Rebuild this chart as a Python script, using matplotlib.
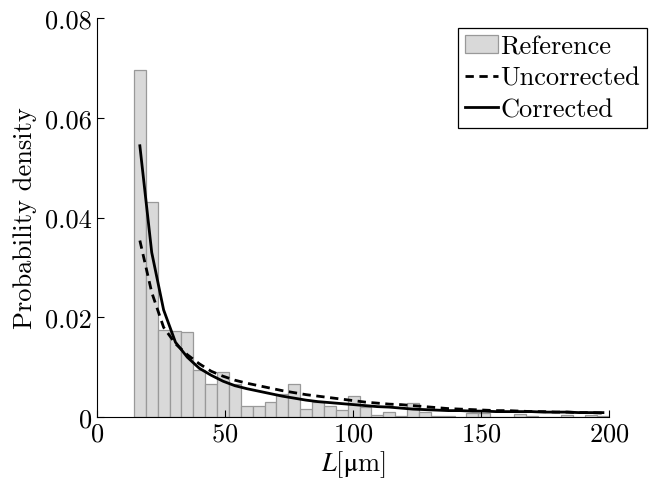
import numpy as np
import matplotlib
matplotlib.use('Agg')
import matplotlib.pyplot as plt

plt.rcParams['font.family'] = ['cmr10', 'DejaVu Serif']
plt.rcParams['mathtext.fontset'] = 'cm'
plt.rcParams['axes.formatter.use_mathtext'] = True

# Histogram of the reference lengths (40 bins between L_min and 200 um)
bin_edges = np.linspace(14.5, 200, 41)
ref_density = [
    0.0695, 0.0431, 0.0175, 0.0173, 0.0171, 0.0094, 0.0066, 0.0091, 0.0066, 0.0023,
    0.0022, 0.0031, 0.0046, 0.0067, 0.0016, 0.0030, 0.0022, 0.0014, 0.0043, 0.0021,
    0.0004, 0.0011, 0.0003, 0.0028, 0.0010, 0.0003, 0.0003, 0.0, 0.0009, 0.0009,
    0.0, 0.0, 0.0007, 0.0002, 0.0, 0.0, 0.0004, 0.0, 0.0004, 0.0002,
]

# Estimated densities evaluated at the bin centres
uncorrected = [
    0.0354, 0.0250, 0.0180, 0.0147, 0.0125, 0.0107, 0.0092, 0.0082, 0.0074, 0.0068,
    0.0063, 0.0058, 0.0053, 0.0049, 0.0045, 0.0042, 0.0039, 0.0036, 0.0033, 0.0030,
    0.0028, 0.0026, 0.0025, 0.0023, 0.0021, 0.0019, 0.0017, 0.0016, 0.0015, 0.0014,
    0.0013, 0.0013, 0.0012, 0.0011, 0.0011, 0.0010, 0.0010, 0.0009, 0.0009, 0.0008,
]
corrected = [
    0.0544, 0.0330, 0.0215, 0.0150, 0.0120, 0.0098, 0.0084, 0.0072, 0.0063, 0.0057,
    0.0052, 0.0047, 0.0042, 0.0038, 0.0034, 0.0031, 0.0029, 0.0027, 0.0025, 0.0023,
    0.0021, 0.0020, 0.0018, 0.0016, 0.0015, 0.0014, 0.0013, 0.0013, 0.0012, 0.0012,
    0.0011, 0.0011, 0.0011, 0.0011, 0.0010, 0.0010, 0.0010, 0.0009, 0.0009, 0.0009,
]

y_ticks = [0, 0.02, 0.04, 0.06, 0.08]
y_ticklabels = ['0', '0.02', '0.04', '0.06', '0.08']
x_ticks = [0, 50, 100, 150, 200]

FS = 19

fig = plt.figure(figsize=(6.54, 4.89), dpi=100)
ax = fig.add_axes([0.148, 0.145, 0.783, 0.816])

centres = 0.5 * (bin_edges[:-1] + bin_edges[1:])
bars = ax.bar(bin_edges[:-1], ref_density, width=np.diff(bin_edges), align='edge',
              color='#d9d9d9', edgecolor='#999999', linewidth=0.9)
l_unc, = ax.plot(centres, uncorrected, color='black', linestyle=(0, (3, 2)),
                 linewidth=2)
l_cor, = ax.plot(centres, corrected, color='black', linewidth=2)

ax.set_xlim(0, 200)
ax.set_ylim(0, 0.08)
ax.set_xticks(x_ticks)
ax.set_yticks(y_ticks)
ax.set_yticklabels(y_ticklabels)
ax.tick_params(direction='in', labelsize=FS, length=5, width=0.8)
ax.spines['top'].set_visible(False)
ax.spines['right'].set_visible(False)

xl = ax.set_xlabel(r'$L$[$\mathrm{\mu}$m]', fontsize=FS, labelpad=2)
xl.set_math_fontfamily('stix')
ax.set_ylabel('Probability density', fontsize=FS, labelpad=6)

leg = ax.legend([bars, l_unc, l_cor], ['Reference', 'Uncorrected', 'Corrected'],
                loc='upper right', bbox_to_anchor=(0.989, 0.941),
                bbox_transform=fig.transFigure, fontsize=FS, fancybox=False,
                edgecolor='black', framealpha=1, handlelength=1.25,
                handletextpad=0.1, borderpad=0.25, labelspacing=0.3,
                borderaxespad=0)
leg.get_frame().set_linewidth(0.9)

fig.savefig('out.png', dpi=100)
